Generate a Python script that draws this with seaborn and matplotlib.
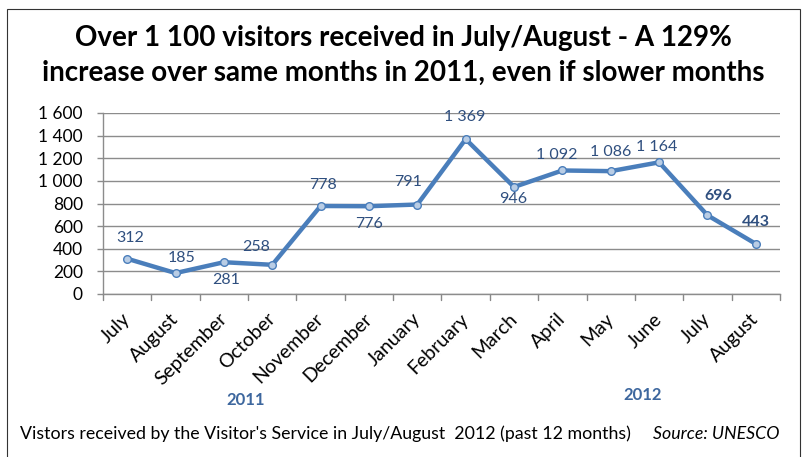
import matplotlib
matplotlib.use("Agg")
import matplotlib.pyplot as plt
import seaborn as sns
import pandas as pd
from matplotlib.patches import Rectangle

months = ["July", "August", "September", "October", "November", "December",
          "January", "February", "March", "April", "May", "June", "July", "August"]
visitors = [312, 185, 281, 258, 778, 776, 791, 1369, 946, 1092, 1086, 1164, 696, 443]
value_labels = ["312", "185", "281", "258", "778", "776", "791", "1 369", "946",
                "1 092", "1 086", "1 164", "696", "443"]
bold_labels = [False]*12 + [True, True]
yticks = [0, 200, 400, 600, 800, 1000, 1200, 1400, 1600]
ytick_labels = ["0", "200", "400", "600", "800", "1 000", "1 200", "1 400", "1 600"]

# label offsets in pixels (dx, dy)
offsets = [(3, 21), (6, 15), (2, -18), (-16, 18), (2, 21), (0, -18), (-9, 23),
           (-1, 22), (-1, -12), (-6, 15), (0, 19), (-2, 15), (11, 19), (0, 22)]

sns.set_theme(style="white")
plt.rcParams['font.family'] = ['Lato', 'DejaVu Sans']

df = pd.DataFrame({"idx": range(len(months)), "visitors": visitors})

fig = plt.figure(figsize=(8.04, 4.57), dpi=100)
fig.patches.append(Rectangle((7/804, -0.1), (800-7)/804, 1 - 9/457 + 0.1,
                             transform=fig.transFigure, fill=False,
                             edgecolor="#333333", linewidth=0.8))
ax = fig.add_axes([103/804, 1-294/457, (780-103)/804, (294-113)/457])

line_color = "#4A7EBB"
sns.lineplot(data=df, x="idx", y="visitors", ax=ax, color=line_color, linewidth=3.2,
             marker="o", markersize=5.5, markerfacecolor="#B9CDE5",
             markeredgecolor=line_color, markeredgewidth=1.0)

ax.set_xlim(-0.5, len(months) - 0.5)
ax.set_ylim(0, 1600)
ax.set_yticks(yticks)
ax.set_yticklabels(ytick_labels, fontsize=12.5, color="#000000")
ax.set_xticks(range(len(months)))
ax.set_xticklabels(months, rotation=45, ha="right", va="center",
                   rotation_mode="anchor", fontsize=14, color="#000000")
ax.tick_params(axis="x", length=0, pad=16)
ax.tick_params(axis="y", length=4.5, width=1, color="#8C8C8C", pad=10, left=True)
for b in [i - 0.5 for i in range(len(months) + 1)]:
    ax.plot([b, b], [0, -0.035], transform=ax.get_xaxis_transform(), clip_on=False,
            color="#888888", linewidth=1)
ax.grid(axis="y", color="#8C8C8C", linewidth=1)
ax.set_axisbelow(True)
for s in ["top", "right"]:
    ax.spines[s].set_visible(False)
for s in ["left", "bottom"]:
    ax.spines[s].set_color("#8C8C8C")
    ax.spines[s].set_linewidth(1)
ax.set_xlabel("")
ax.set_ylabel("")

label_color = "#2F4F7F"
for i, (v, t, b, off) in enumerate(zip(visitors, value_labels, bold_labels, offsets)):
    ax.annotate(t, (i, v), xytext=off, textcoords="offset pixels",
                ha="center", va="center", fontsize=11.5, color=label_color,
                fontweight="bold" if b else "normal")

fig.text(403/804, 1-38/457, "Over 1 100 visitors received in July/August - A 129%",
         ha="center", va="center", fontsize=20, fontweight="bold", color="black")
fig.text(403/804, 1-73/457, "increase over same months in 2011, even if slower months",
         ha="center", va="center", fontsize=20, fontweight="bold", color="black")

fig.text(246/804, 1-400/457, "2011", ha="center", va="center", fontsize=12,
         fontweight="bold", color="#3D679E")
fig.text(643/804, 1-395/457, "2012", ha="center", va="center", fontsize=12,
         fontweight="bold", color="#3D679E")

fig.text(20/804, 1-434/457,
         "Vistors received by the Visitor's Service in July/August  2012 (past 12 months)",
         ha="left", va="center", fontsize=12.8, color="black")
fig.text(780/804, 1-434/457, "Source: UNESCO", ha="right", va="center",
         fontsize=12.8, style="italic", color="black")

fig.savefig("out.png", dpi=100)
